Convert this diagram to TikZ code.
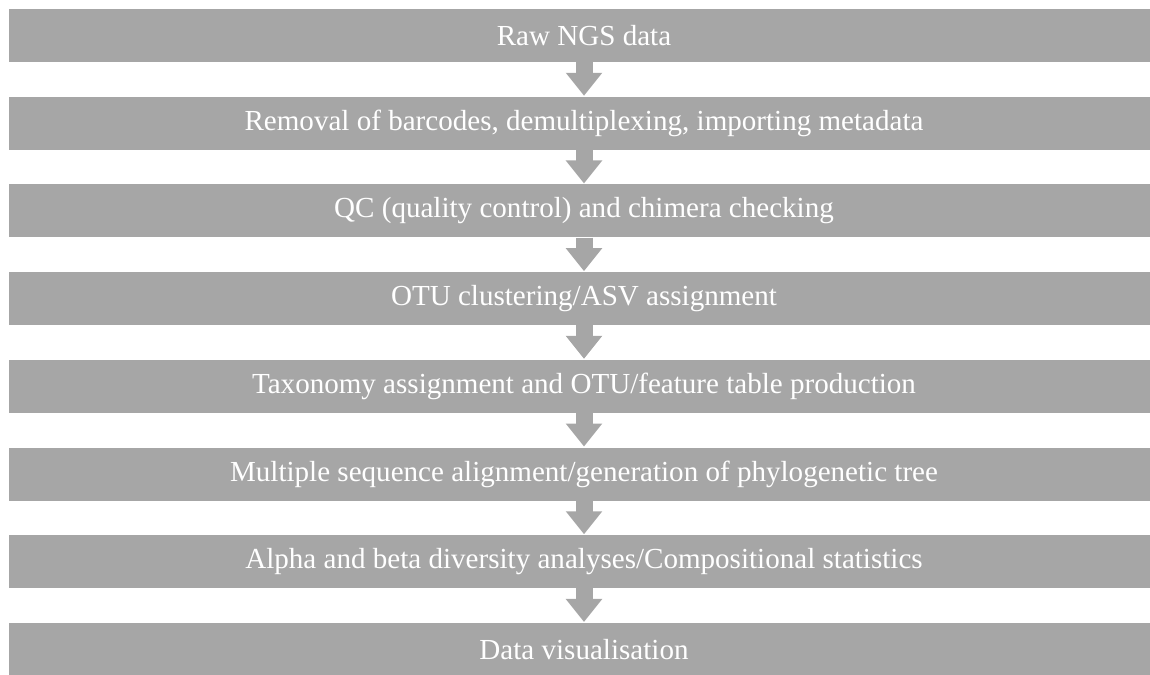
\documentclass[tikz,border=0pt]{standalone}
\usepackage{fontspec}
\setmainfont{Liberation Serif}
\usetikzlibrary{arrows.meta}
\definecolor{bargray}{HTML}{A6A6A6}
\tikzset{
  stage/.style={fill=bargray, draw=none, text=white, inner sep=0pt,
    minimum width=862.5pt, minimum height=39.75pt,
    font=\fontsize{21.8pt}{24pt}\selectfont},
  flow/.style={draw=bargray, line width=12.75pt,
    -{Triangle[width=26.25pt,length=17.25pt,fill=bargray]}, shorten >=0.5pt}
}
\begin{document}
\begin{tikzpicture}[x=0.75pt,y=-0.75pt]
\useasboundingbox (0,0) rectangle (1150,675);
\node[stage] (s1) at (584,35.5) {Raw NGS data};
\node[stage] (s2) at (584,123.2) {Removal of barcodes, demultiplexing, importing metadata};
\node[stage] (s3) at (584,210.9) {QC (quality control) and chimera checking};
\node[stage] (s4) at (584,298.6) {OTU clustering/ASV assignment};
\node[stage] (s5) at (584,386.3) {Taxonomy assignment and OTU/feature table production};
\node[stage] (s6) at (584,474.0) {Multiple sequence alignment/generation of phylogenetic tree};
\node[stage] (s7) at (584,561.7) {Alpha and beta diversity analyses/Compositional statistics};
\node[stage] (s8) at (584,649.4) {Data visualisation};
\foreach \a/\b in {s1/s2,s2/s3,s3/s4,s4/s5,s5/s6,s6/s7,s7/s8}
  \draw[flow] (\a.south) -- (\b.north);
\end{tikzpicture}
\end{document}
